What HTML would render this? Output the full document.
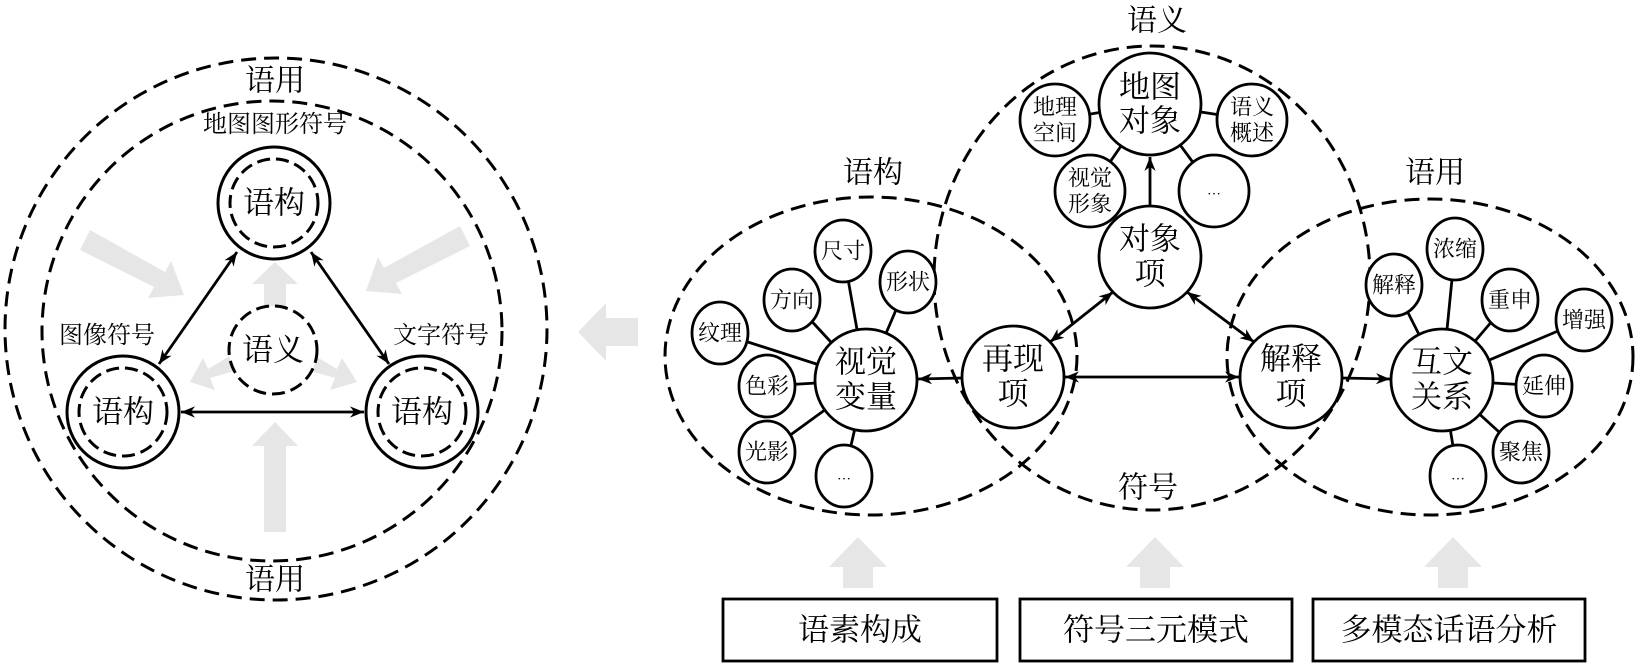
<!DOCTYPE html>
<html><head><meta charset="utf-8"><style>
html,body{margin:0;padding:0;background:#fff;}
svg{display:block;}
text{font-family:"Liberation Serif","Noto Serif CJK SC","Noto Sans CJK SC",serif;fill:#000;text-anchor:middle;dominant-baseline:central;}
</style></head><body>
<svg width="1640" height="663" viewBox="0 0 1640 663" xmlns="http://www.w3.org/2000/svg">
<defs>
<marker id="ah2" viewBox="0 0 10 10" refX="10" refY="5" markerWidth="16" markerHeight="14" orient="auto-start-reverse" markerUnits="userSpaceOnUse">
<path d="M0,1 L10,5 L0,9 L3,5 z" fill="#000"/></marker>
</defs>

<!-- LEFT DIAGRAM -->
<g fill="#e6e6e6" stroke="none">
<polygon points="264,532 286,532 286,446 298,446 275,422 252,446 264,446"/>
<polygon points="264,316 286,316 286,284 298,284 275,262 252,284 264,284"/>
<polygon points="80,250 90,230 165,272 171,261 184,295 148,298 154,287"/>
<polygon points="470,246 460,226 384,268 378,257 366,291 402,294 396,283"/>
<polygon points="240,350 252,366 210,378 215,390 190,382 203,358 208,369"/>
<polygon points="305,350 293,366 335,378 330,390 357,382 342,358 337,369"/>
</g>
<circle cx="276" cy="329" r="271" fill="none" stroke="#000" stroke-width="3" stroke-dasharray="15,8"/>
<circle cx="272" cy="331" r="230" fill="none" stroke="#000" stroke-width="3" stroke-dasharray="15,8"/>
<rect x="240" y="66" width="70" height="30" fill="#fff"/>
<text x="275" y="81" font-size="30">语用</text>
<rect x="240" y="566" width="70" height="30" fill="#fff"/>
<text x="275" y="580" font-size="30">语用</text>
<text x="275" y="125" font-size="24">地图图形符号</text>
<text x="107" y="336" font-size="24">图像符号</text>
<text x="441" y="336" font-size="24">文字符号</text>

<g fill="#fff" stroke="#000" stroke-width="3">
<circle cx="274" cy="203" r="56"/>
<circle cx="123" cy="412" r="56"/>
<circle cx="422" cy="412" r="56"/>
</g>
<g fill="none" stroke="#000" stroke-width="3" stroke-dasharray="13,6">
<circle cx="274" cy="203" r="44"/>
<circle cx="123" cy="412" r="44"/>
<circle cx="422" cy="412" r="44"/>
<circle cx="273" cy="350" r="44" fill="#fff"/>
</g>
<text x="274" y="203" font-size="31">语构</text>
<text x="123" y="412" font-size="31">语构</text>
<text x="422" y="412" font-size="31">语构</text>
<text x="273" y="350" font-size="31">语义</text>
<g stroke="#000" stroke-width="2.8" fill="none">
<line x1="237" y1="252" x2="159" y2="364" marker-start="url(#ah2)" marker-end="url(#ah2)"/>
<line x1="311" y1="252" x2="389" y2="364" marker-start="url(#ah2)" marker-end="url(#ah2)"/>
<line x1="181" y1="412" x2="364" y2="412" marker-start="url(#ah2)" marker-end="url(#ah2)"/>
</g>

<polygon fill="#e6e6e6" points="578,332 606,303 606,318 638,318 638,346 606,346 606,361"/>

<!-- RIGHT DIAGRAM -->
<g fill="none" stroke="#000" stroke-width="3" stroke-dasharray="15,8">
<ellipse cx="1152" cy="278" rx="218" ry="232"/>
<ellipse cx="871" cy="356" rx="206" ry="159"/>
<ellipse cx="1430" cy="357" rx="203" ry="158"/>
</g>
<text x="1157" y="21" font-size="30">语义</text>
<text x="873" y="173" font-size="30">语构</text>
<text x="1435" y="173" font-size="30">语用</text>
<text x="1148" y="488" font-size="30">符号</text>

<g stroke="#000" stroke-width="2.8">
<line x1="1150" y1="104" x2="1055" y2="120"/>
<line x1="1150" y1="104" x2="1252" y2="120"/>
<line x1="1150" y1="104" x2="1090" y2="191"/>
<line x1="1150" y1="104" x2="1214" y2="191"/>
<line x1="866" y1="380" x2="843" y2="251"/>
<line x1="866" y1="380" x2="792" y2="300"/>
<line x1="866" y1="380" x2="908" y2="282"/>
<line x1="866" y1="380" x2="720" y2="333"/>
<line x1="866" y1="380" x2="767" y2="386"/>
<line x1="866" y1="380" x2="767" y2="452"/>
<line x1="866" y1="380" x2="844" y2="476"/>
<line x1="1442" y1="380" x2="1394" y2="285"/>
<line x1="1442" y1="380" x2="1455" y2="249"/>
<line x1="1442" y1="380" x2="1510" y2="300"/>
<line x1="1442" y1="380" x2="1584" y2="320"/>
<line x1="1442" y1="380" x2="1544" y2="386"/>
<line x1="1442" y1="380" x2="1521" y2="452"/>
<line x1="1442" y1="380" x2="1458" y2="476"/>
</g>
<g fill="#fff" stroke="#000" stroke-width="2.8">
<circle cx="1150" cy="104" r="51"/>
<circle cx="1150" cy="257" r="51"/>
<circle cx="1013" cy="377" r="51"/>
<circle cx="1291" cy="377" r="51"/>
<circle cx="866" cy="380" r="51"/>
<circle cx="1442" cy="380" r="51"/>
<ellipse cx="1055" cy="120" rx="35" ry="36"/>
<ellipse cx="1252" cy="120" rx="35" ry="36"/>
<ellipse cx="1090" cy="191" rx="35" ry="36"/>
<ellipse cx="1214" cy="191" rx="35" ry="36"/>
<ellipse cx="843" cy="251" rx="28" ry="31"/>
<ellipse cx="792" cy="300" rx="28" ry="31"/>
<ellipse cx="908" cy="282" rx="28" ry="31"/>
<ellipse cx="720" cy="333" rx="28" ry="31"/>
<ellipse cx="767" cy="386" rx="28" ry="31"/>
<ellipse cx="767" cy="452" rx="28" ry="31"/>
<ellipse cx="844" cy="476" rx="28" ry="31"/>
<ellipse cx="1394" cy="285" rx="28" ry="31"/>
<ellipse cx="1455" cy="249" rx="28" ry="31"/>
<ellipse cx="1510" cy="300" rx="28" ry="31"/>
<ellipse cx="1584" cy="320" rx="28" ry="31"/>
<ellipse cx="1544" cy="386" rx="28" ry="31"/>
<ellipse cx="1521" cy="452" rx="28" ry="31"/>
<ellipse cx="1458" cy="476" rx="28" ry="31"/>
</g>
<g stroke="#000" stroke-width="2.8" fill="none">
<line x1="1150" y1="206" x2="1150" y2="157" marker-end="url(#ah2)"/>
<line x1="1113" y1="292" x2="1050" y2="342" marker-start="url(#ah2)" marker-end="url(#ah2)"/>
<line x1="1187" y1="292" x2="1254" y2="342" marker-start="url(#ah2)" marker-end="url(#ah2)"/>
<line x1="1065" y1="377" x2="1239" y2="377" marker-start="url(#ah2)" marker-end="url(#ah2)"/>
<line x1="962" y1="378" x2="918" y2="379" marker-end="url(#ah2)"/>
<line x1="1342" y1="378" x2="1390" y2="379" marker-end="url(#ah2)"/>
</g>
<g font-size="31">
<text x="1150" y="87">地图</text><text x="1150" y="121">对象</text>
<text x="1150" y="239">对象</text><text x="1150" y="274">项</text>
<text x="1013" y="359">再现</text><text x="1013" y="394">项</text>
<text x="1291" y="359">解释</text><text x="1291" y="394">项</text>
<text x="866" y="362">视觉</text><text x="866" y="397">变量</text>
<text x="1442" y="362">互文</text><text x="1442" y="397">关系</text>
</g>
<g font-size="22">
<text x="1055" y="107">地理</text><text x="1055" y="133">空间</text>
<text x="1252" y="107">语义</text><text x="1252" y="133">概述</text>
<text x="1090" y="178">视觉</text><text x="1090" y="204">形象</text>
<text x="1214" y="191" font-size="14">…</text>
<text x="843" y="251">尺寸</text>
<text x="792" y="300">方向</text>
<text x="908" y="282">形状</text>
<text x="720" y="333">纹理</text>
<text x="767" y="386">色彩</text>
<text x="767" y="452">光影</text>
<text x="844" y="476" font-size="14">…</text>
<text x="1394" y="285">解释</text>
<text x="1455" y="249">浓缩</text>
<text x="1510" y="300">重申</text>
<text x="1584" y="320">增强</text>
<text x="1544" y="386">延伸</text>
<text x="1521" y="452">聚焦</text>
<text x="1458" y="476" font-size="14">…</text>
</g>

<g fill="#e6e6e6">
<polygon points="843,588 873,588 873,567 887,567 858,537 829,567 843,567"/>
<polygon points="1140,588 1170,588 1170,567 1184,567 1155,537 1126,567 1140,567"/>
<polygon points="1438,588 1468,588 1468,567 1482,567 1453,537 1424,567 1438,567"/>
</g>
<g fill="#fff" stroke="#000" stroke-width="2.8">
<rect x="723" y="599" width="274" height="62"/>
<rect x="1020" y="599" width="272" height="62"/>
<rect x="1313" y="599" width="272" height="62"/>
</g>
<g font-size="31">
<text x="860" y="630">语素构成</text>
<text x="1156" y="630">符号三元模式</text>
<text x="1449" y="630">多模态话语分析</text>
</g>
</svg>
</body></html>
